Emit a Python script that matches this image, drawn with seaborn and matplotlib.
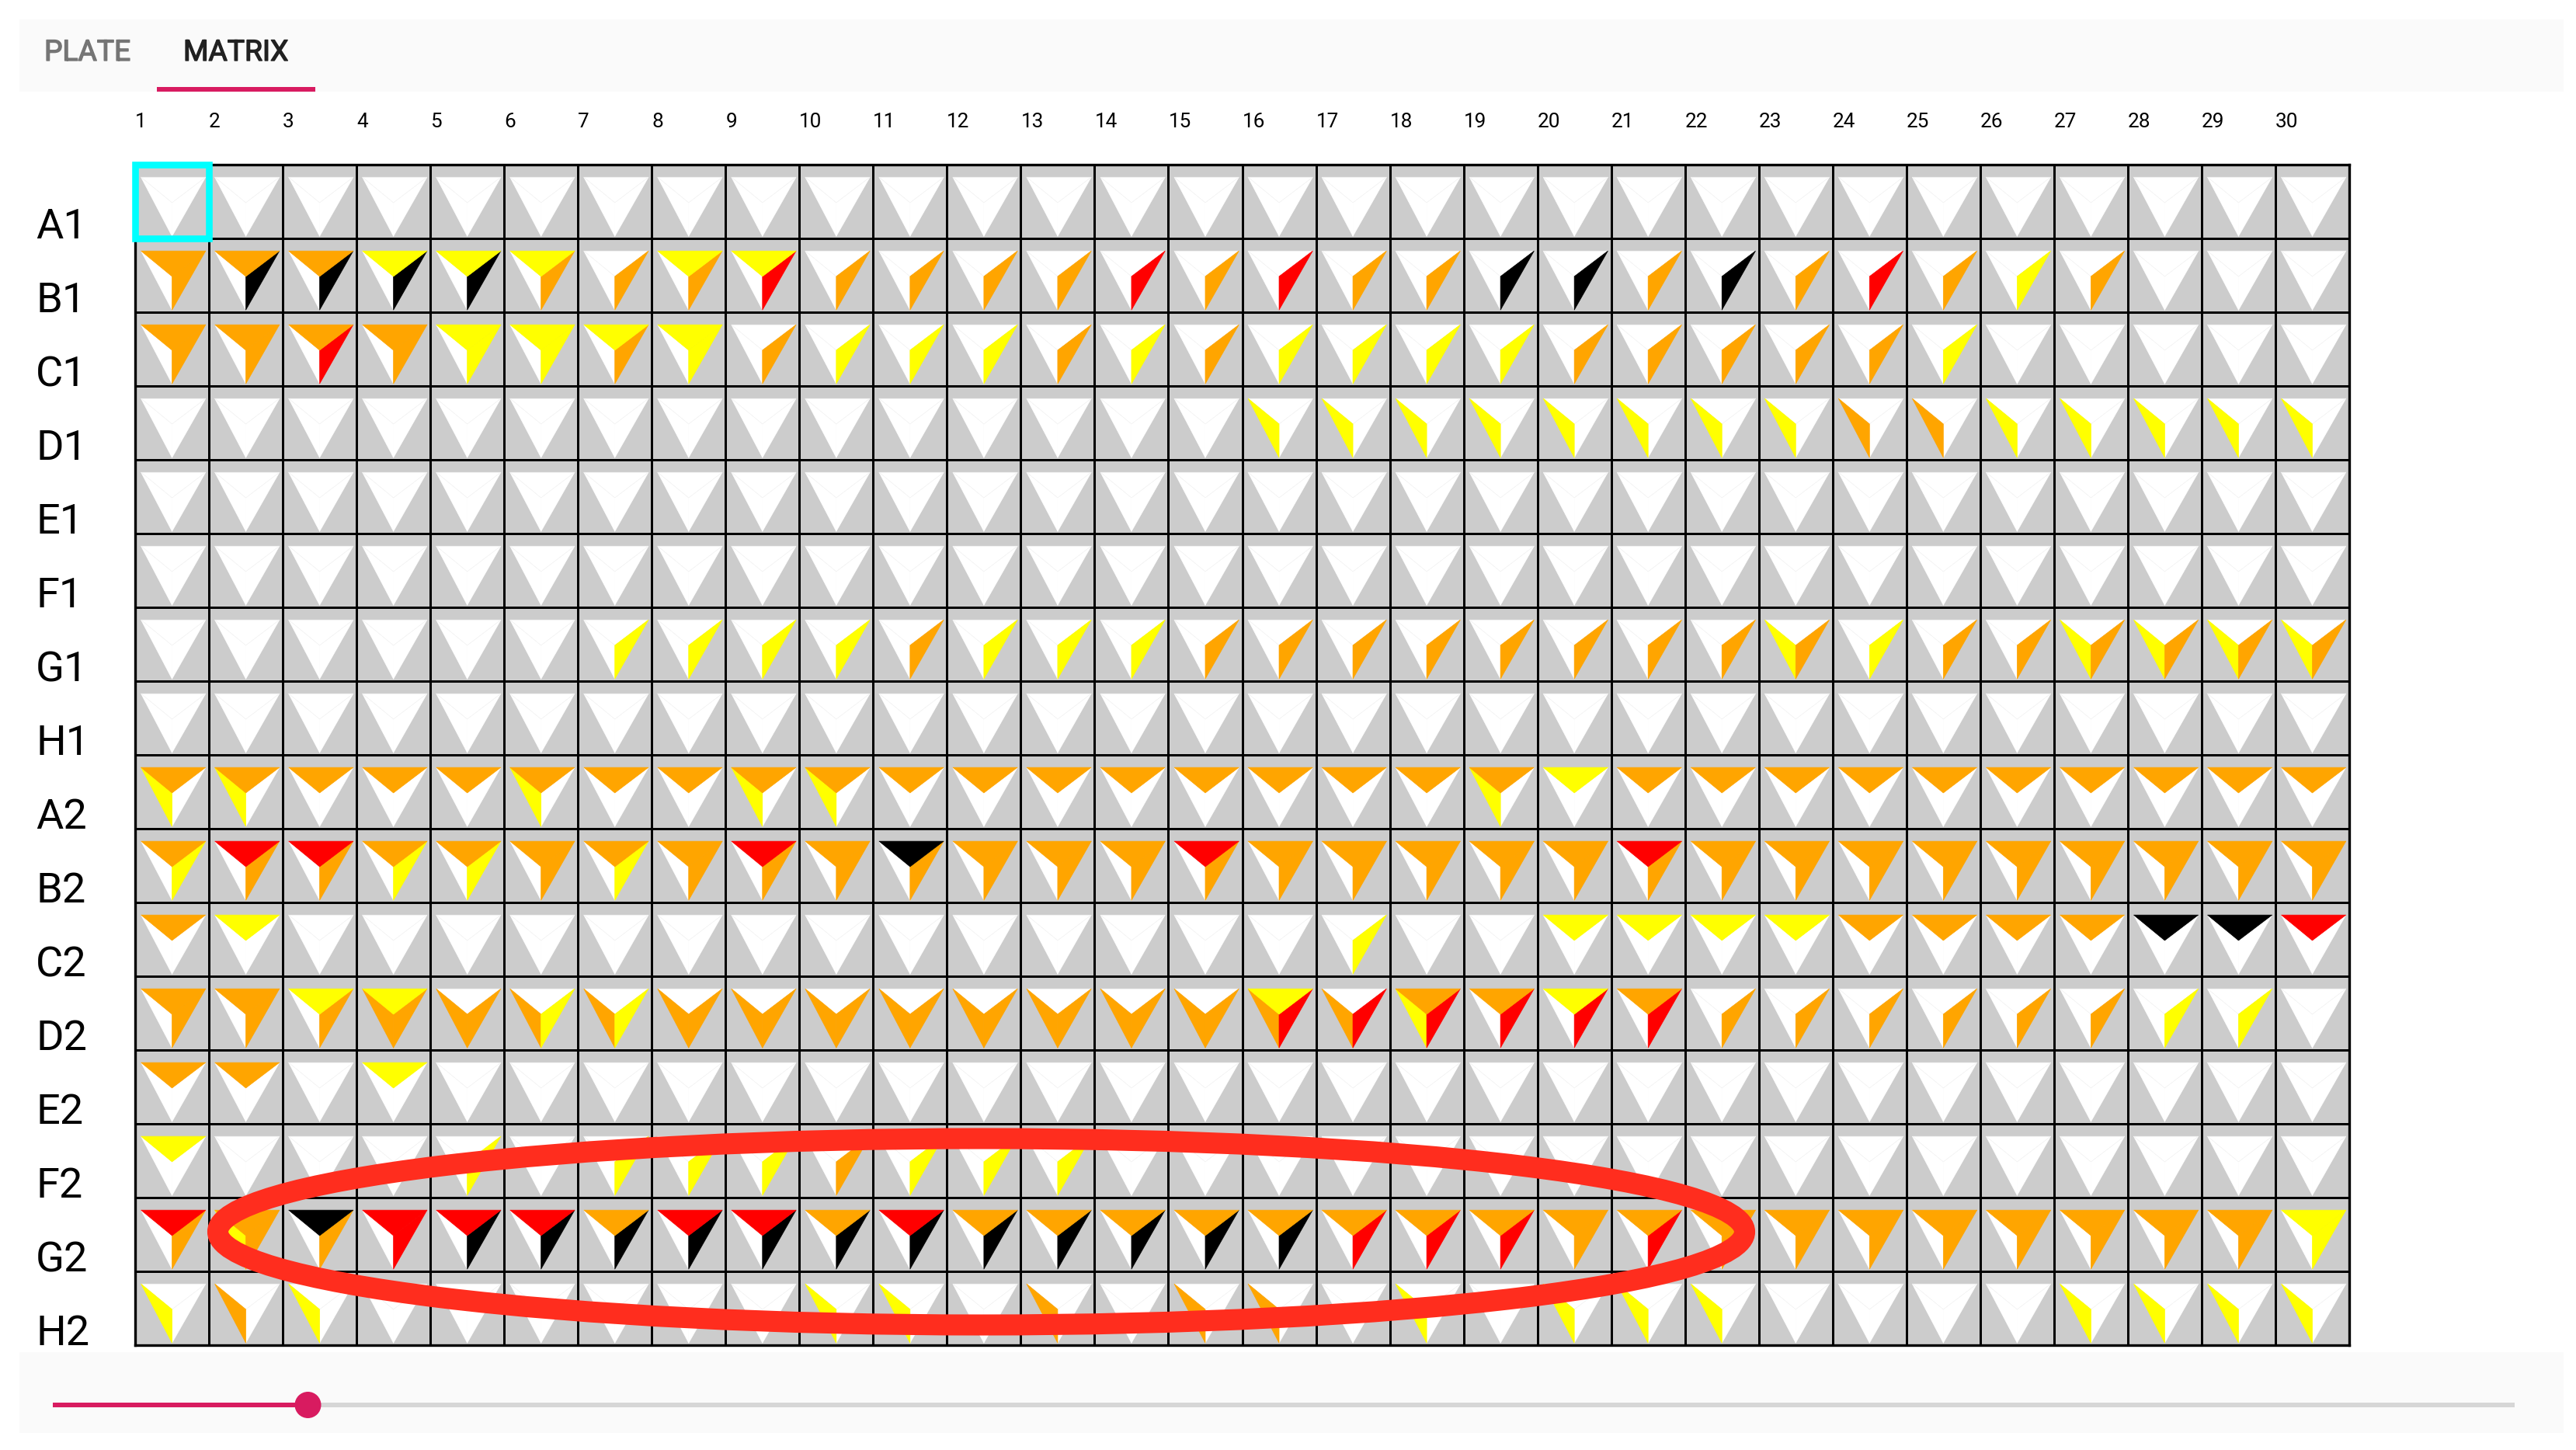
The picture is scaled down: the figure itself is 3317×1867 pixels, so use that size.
import numpy as np
import pandas as pd
import seaborn as sns
import matplotlib
matplotlib.use('Agg')
import matplotlib.pyplot as plt
import matplotlib.patheffects as pe
from matplotlib.collections import PolyCollection
from matplotlib.colors import ListedColormap
from matplotlib.patches import Rectangle, Ellipse
from matplotlib.transforms import Affine2D

W_PX, H_PX = 3317, 1867

# row and column labels
row_labels = ['A1', 'B1', 'C1', 'D1', 'E1', 'F1', 'G1', 'H1',
              'A2', 'B2', 'C2', 'D2', 'E2', 'F2', 'G2', 'H2']
col_labels = [str(i) for i in range(1, 31)]

# W white, Y yellow, O orange, R red, K black - one letter per column
blank = 'W' * 30
top_part = [
    blank,
    'OOOYYYWYYW' + 'W' * 20,
    'OOOOYYYYWW' + 'W' * 20,
    blank,
    blank,
    blank,
    blank,
    blank,
    'O' * 19 + 'Y' + 'O' * 10,
    'ORROOOOOROKOOOROOOOOROOOOOOOOO',
    'OY' + 'W' * 17 + 'YYYYOOOOKKR',
    'OOYY' + 'W' * 11 + 'YWOOYO' + 'W' * 9,
    'OOWY' + 'W' * 26,
    'Y' + 'W' * 29,
    'ROKRRRORROR' + 'O' * 18 + 'Y',
    blank,
]
left_part = [
    blank,
    blank,
    blank,
    'W' * 15 + 'Y' * 8 + 'OO' + 'Y' * 5,
    blank,
    blank,
    'W' * 22 + 'Y' + 'WWW' + 'YYYY',
    blank,
    'YYWWWYWWYY' + 'W' * 8 + 'Y' + 'W' * 11,
    blank,
    blank,
    'WWW' + 'O' * 14 + 'Y' + 'W' * 12,
    blank,
    blank,
    'WY' + 'W' * 28,
    'YOYWWWWWWYYWOWOOWYWYYYWWWWYYYY',
]
right_part = [
    blank,
    'OKKKKOOOROOOOROROOKKOKOROYOWWW',
    'OOROYYOYOYYYOYOYYYYOOOOOYWWWWW',
    blank,
    blank,
    blank,
    'WWWWWWYYYYOYYYOOOOOOOOOYOOOOOO',
    blank,
    blank,
    'YOOYYOYOOO' + 'O' * 20,
    'W' * 16 + 'Y' + 'W' * 13,
    'OOOOOYYOOOOOOOORRRRRROOOOOOYYW',
    blank,
    'WWWWYWYYYOYYYWWWWWWWWWWWWWWWWW',
    'OOOR' + 'K' * 12 + 'RRRO' + 'R' + 'O' * 8 + 'Y',
    blank,
]

palette = {'W': '#ffffff', 'Y': '#ffff00', 'O': '#ffa500', 'R': '#ff0000', 'K': '#000000'}

sns.set_theme(style='white')
plt.rcParams['font.family'] = ['Roboto', 'DejaVu Sans']

fig = plt.figure(figsize=(W_PX / 100, H_PX / 100), dpi=100, facecolor='white')

# grid sits at x 174..3025, y 212..1732 in picture pixels
ax = fig.add_axes([174 / W_PX, 1 - 1732 / H_PX, (3025 - 174) / W_PX, (1732 - 212) / H_PX])
grid = pd.DataFrame(np.zeros((16, 30)), index=row_labels, columns=col_labels)
sns.heatmap(grid, ax=ax, cmap=ListedColormap(['#cccccc']), cbar=False,
            linewidths=2.0, linecolor='black', square=False)
for side in ax.spines.values():
    side.set_visible(True)
    side.set_color('black')
    side.set_linewidth(2.4)

# ticks: column numbers start at the left edge of a cell, row names sit on its bottom edge
ax.xaxis.tick_top()
ax.set_xticks(np.arange(30), labels=col_labels, rotation=0, ha='left', fontsize=18.8, color='black')
ax.set_yticks(np.arange(1, 17), labels=row_labels, rotation=0, ha='left', va='baseline',
              fontsize=39, color='black')
ax.tick_params(axis='x', length=0, pad=31)
ax.tick_params(axis='y', length=0, pad=92)
ax.set_xlabel('')
ax.set_ylabel('')

# each cell holds a downward triangle cut in three parts around its middle
shape_top = [(0.08, 0.17), (0.955, 0.17), (0.5, 0.515)]
shape_left = [(0.08, 0.17), (0.5, 0.515), (0.5, 0.97)]
shape_right = [(0.955, 0.17), (0.5, 0.515), (0.5, 0.97)]


def add_parts(shape, part, pick, edge, width, z):
    polys = []
    faces = []
    for r, letters in enumerate(part):
        for c, letter in enumerate(letters):
            if pick(letter):
                polys.append([(c + fx, r + fy) for fx, fy in shape])
                faces.append(palette[letter])
    ax.add_collection(PolyCollection(polys, facecolors=faces, edgecolors=edge if edge else faces,
                                     linewidths=width, zorder=z))


# white sides first, then the white tops that leave the faint V, coloured parts last
is_white = lambda letter: letter == 'W'
is_colour = lambda letter: letter != 'W'
add_parts(shape_left, left_part, is_white, None, 0.5, 3)
add_parts(shape_right, right_part, is_white, None, 0.5, 3)
add_parts(shape_top, top_part, is_white, '#f0f0f0', 0.4, 3.1)
add_parts(shape_left, left_part, is_colour, None, 0.5, 3.2)
add_parts(shape_right, right_part, is_colour, None, 0.5, 3.2)
add_parts(shape_top, top_part, is_colour, None, 0.5, 3.3)

# selected cell
ax.add_patch(Rectangle((0, 0), 1, 1, fill=False, ec='#00ffff', lw=6.2, clip_on=False, zorder=5))

# page furniture, in picture pixels from the top left
px = Affine2D().scale(1, -1).translate(0, H_PX)
pink = '#d81b60'
fig.add_artist(Rectangle((25, 25), 3276, 93, fc='#fafafa', ec='none', transform=px))
fig.add_artist(Rectangle((202, 112), 204, 6, fc=pink, ec='none', transform=px, zorder=2))
for label, x, shade in [('PLATE', 57, '#757575'), ('MATRIX', 236, '#212121')]:
    tab = fig.text(x, 78, label, transform=px, fontsize=26.8, color=shade, va='baseline')
    tab.set_path_effects([pe.withStroke(linewidth=1.0, foreground=shade)])

fig.add_artist(Rectangle((25, 1741), 3276, 104, fc='#fafafa', ec='none', transform=px))
fig.add_artist(Rectangle((68, 1806), 3170, 6, fc='#d6d6d6', ec='none', transform=px, zorder=2))
fig.add_artist(Rectangle((68, 1806), 328, 6, fc=pink, ec='none', transform=px, zorder=3))
fig.add_artist(Ellipse((396.5, 1809), 34, 34, fc=pink, ec='none', transform=px, zorder=4))

# hand drawn highlight over the G2 row
fig.add_artist(Ellipse((1263.5, 1586), 1966, 240, fill=False, ec='#ff2d1e', lw=19.5, transform=px, zorder=6))

fig.savefig('out.png', dpi=100)
